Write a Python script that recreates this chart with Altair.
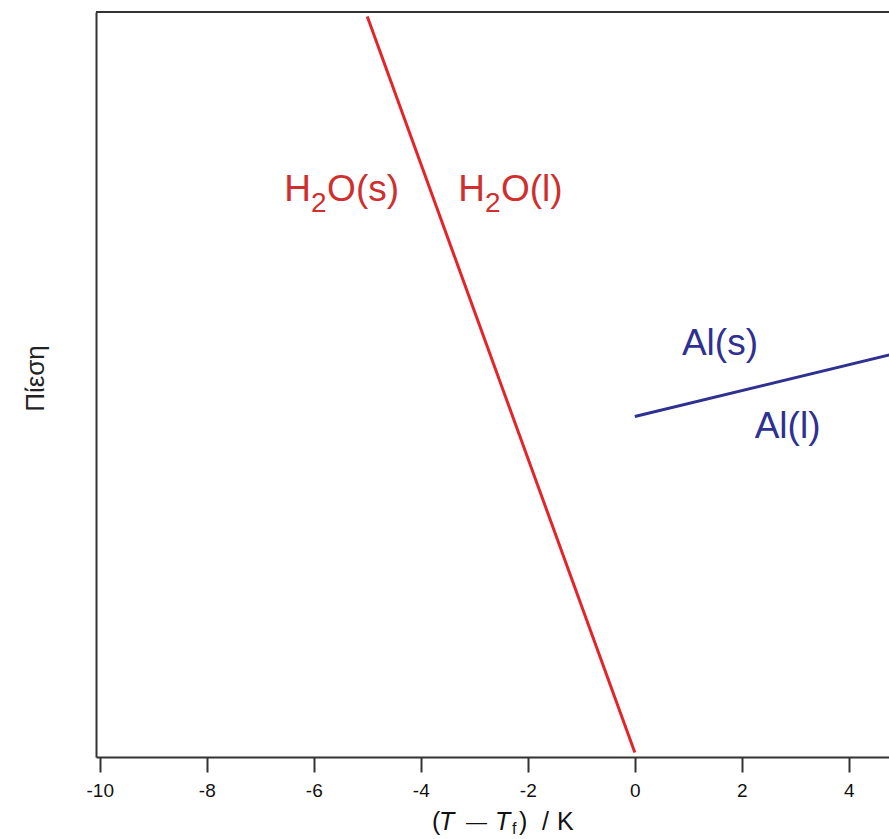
import altair as alt
import pandas as pd

# ---- data ----
water_T = [-5.0, 0.0]
water_P = [99.4, 0.6]
al_T = [0.0, 5.0]
al_P = [45.7, 54.4]
x_ticks = [-10, -8, -6, -4, -2, 0, 2, 4]

RED_LINE = "#e4242a"
RED_TEXT = "#cf2f2e"
BLUE = "#2e3192"
FONT = "Liberation Sans"
W, H = 793, 745

water = pd.DataFrame({"T": water_T, "P": water_P})
al = pd.DataFrame({"T": al_T, "P": al_P})

xscale = alt.Scale(domain=[-10.07, 4.75], nice=False, zero=False)
yscale = alt.Scale(domain=[0, 100], nice=False, zero=False)

xaxis = alt.Axis(values=x_ticks, title=None, grid=False, tickSize=15, tickWidth=2,
                 tickColor="#333", domainColor="#333", domainWidth=2,
                 labelFont=FONT, labelFontSize=19, labelColor="#111", labelPadding=9,
                 labelExpr="datum.value + ''")
yaxis = alt.Axis(title="Πίεση", labels=False, ticks=False, grid=False,
                 domainColor="#333", domainWidth=2, titleFont=FONT, titleFontSize=26,
                 titleFontWeight="normal", titleColor="#222", titlePadding=48,
                 titleY=366)

red_line = alt.Chart(water).mark_line(color=RED_LINE, strokeWidth=3, clip=True).encode(
    x=alt.X("T:Q", scale=xscale, axis=xaxis),
    y=alt.Y("P:Q", scale=yscale, axis=yaxis),
)
blue_line = alt.Chart(al).mark_line(color=BLUE, strokeWidth=3, clip=True).encode(
    x=alt.X("T:Q", scale=xscale),
    y=alt.Y("P:Q", scale=yscale),
)

top_border = alt.Chart(pd.DataFrame({"a": [0]})).mark_rule(color="#333", strokeWidth=2).encode(
    x=alt.value(0), x2=alt.value(W), y=alt.value(0)
)

# ---- phase labels (anchored in data coordinates) ----
def label(text, x, y, color, size, align="left", dx=0, dy=0):
    return alt.Chart(pd.DataFrame({"T": [x], "P": [y], "t": [text]})).mark_text(
        font=FONT, fontSize=size, color=color, align=align, baseline="alphabetic", dx=dx, dy=dy
    ).encode(x=alt.X("T:Q", scale=xscale), y=alt.Y("P:Q", scale=yscale), text="t:N")

layers = [red_line, blue_line, top_border]
for anchor, rest in [(-6.05, "O(s)"), (-2.8, "O(l)")]:
    layers.append(label("H", anchor, 74.6, RED_TEXT, 37, align="right"))
    layers.append(label("2", anchor, 74.6, RED_TEXT, 28, dy=11))
    layers.append(label(rest, anchor, 74.6, RED_TEXT, 37, dx=16))
layers.append(label("Al(s)", 0.88, 54.0, BLUE, 37))
layers.append(label("Al(l)", 2.24, 42.8, BLUE, 37))

# ---- x-axis title composed of pieces: (T – Tf) / K ----
title_pieces = [("(", 336, 25, "normal", 0), ("T", 343, 25, "italic", 0),
                ("—", 370, 21, "normal", -1), ("T", 399, 25, "italic", 0),
                ("f", 416, 16, "normal", 4), (")", 423, 25, "normal", 0),
                ("/", 446, 25, "normal", 0), ("K", 461, 25, "normal", 0)]
for txt, px, size, style, off in title_pieces:
    layers.append(
        alt.Chart(pd.DataFrame({"t": [txt]})).mark_text(
            font=FONT, fontSize=size, fontStyle=style, color="#111", align="left",
            baseline="alphabetic"
        ).encode(x=alt.value(px), y=alt.value(818 + off), text="t:N")
    )

chart = alt.layer(*layers).properties(
    width=W, height=H,
    autosize=alt.AutoSizeParams(type="none"),
    padding={"left": 96, "top": 12, "right": 0, "bottom": 82},
    background="white",
).configure_view(stroke=None)

chart.save("out.html", embed_options={"renderer": "svg", "actions": False})
